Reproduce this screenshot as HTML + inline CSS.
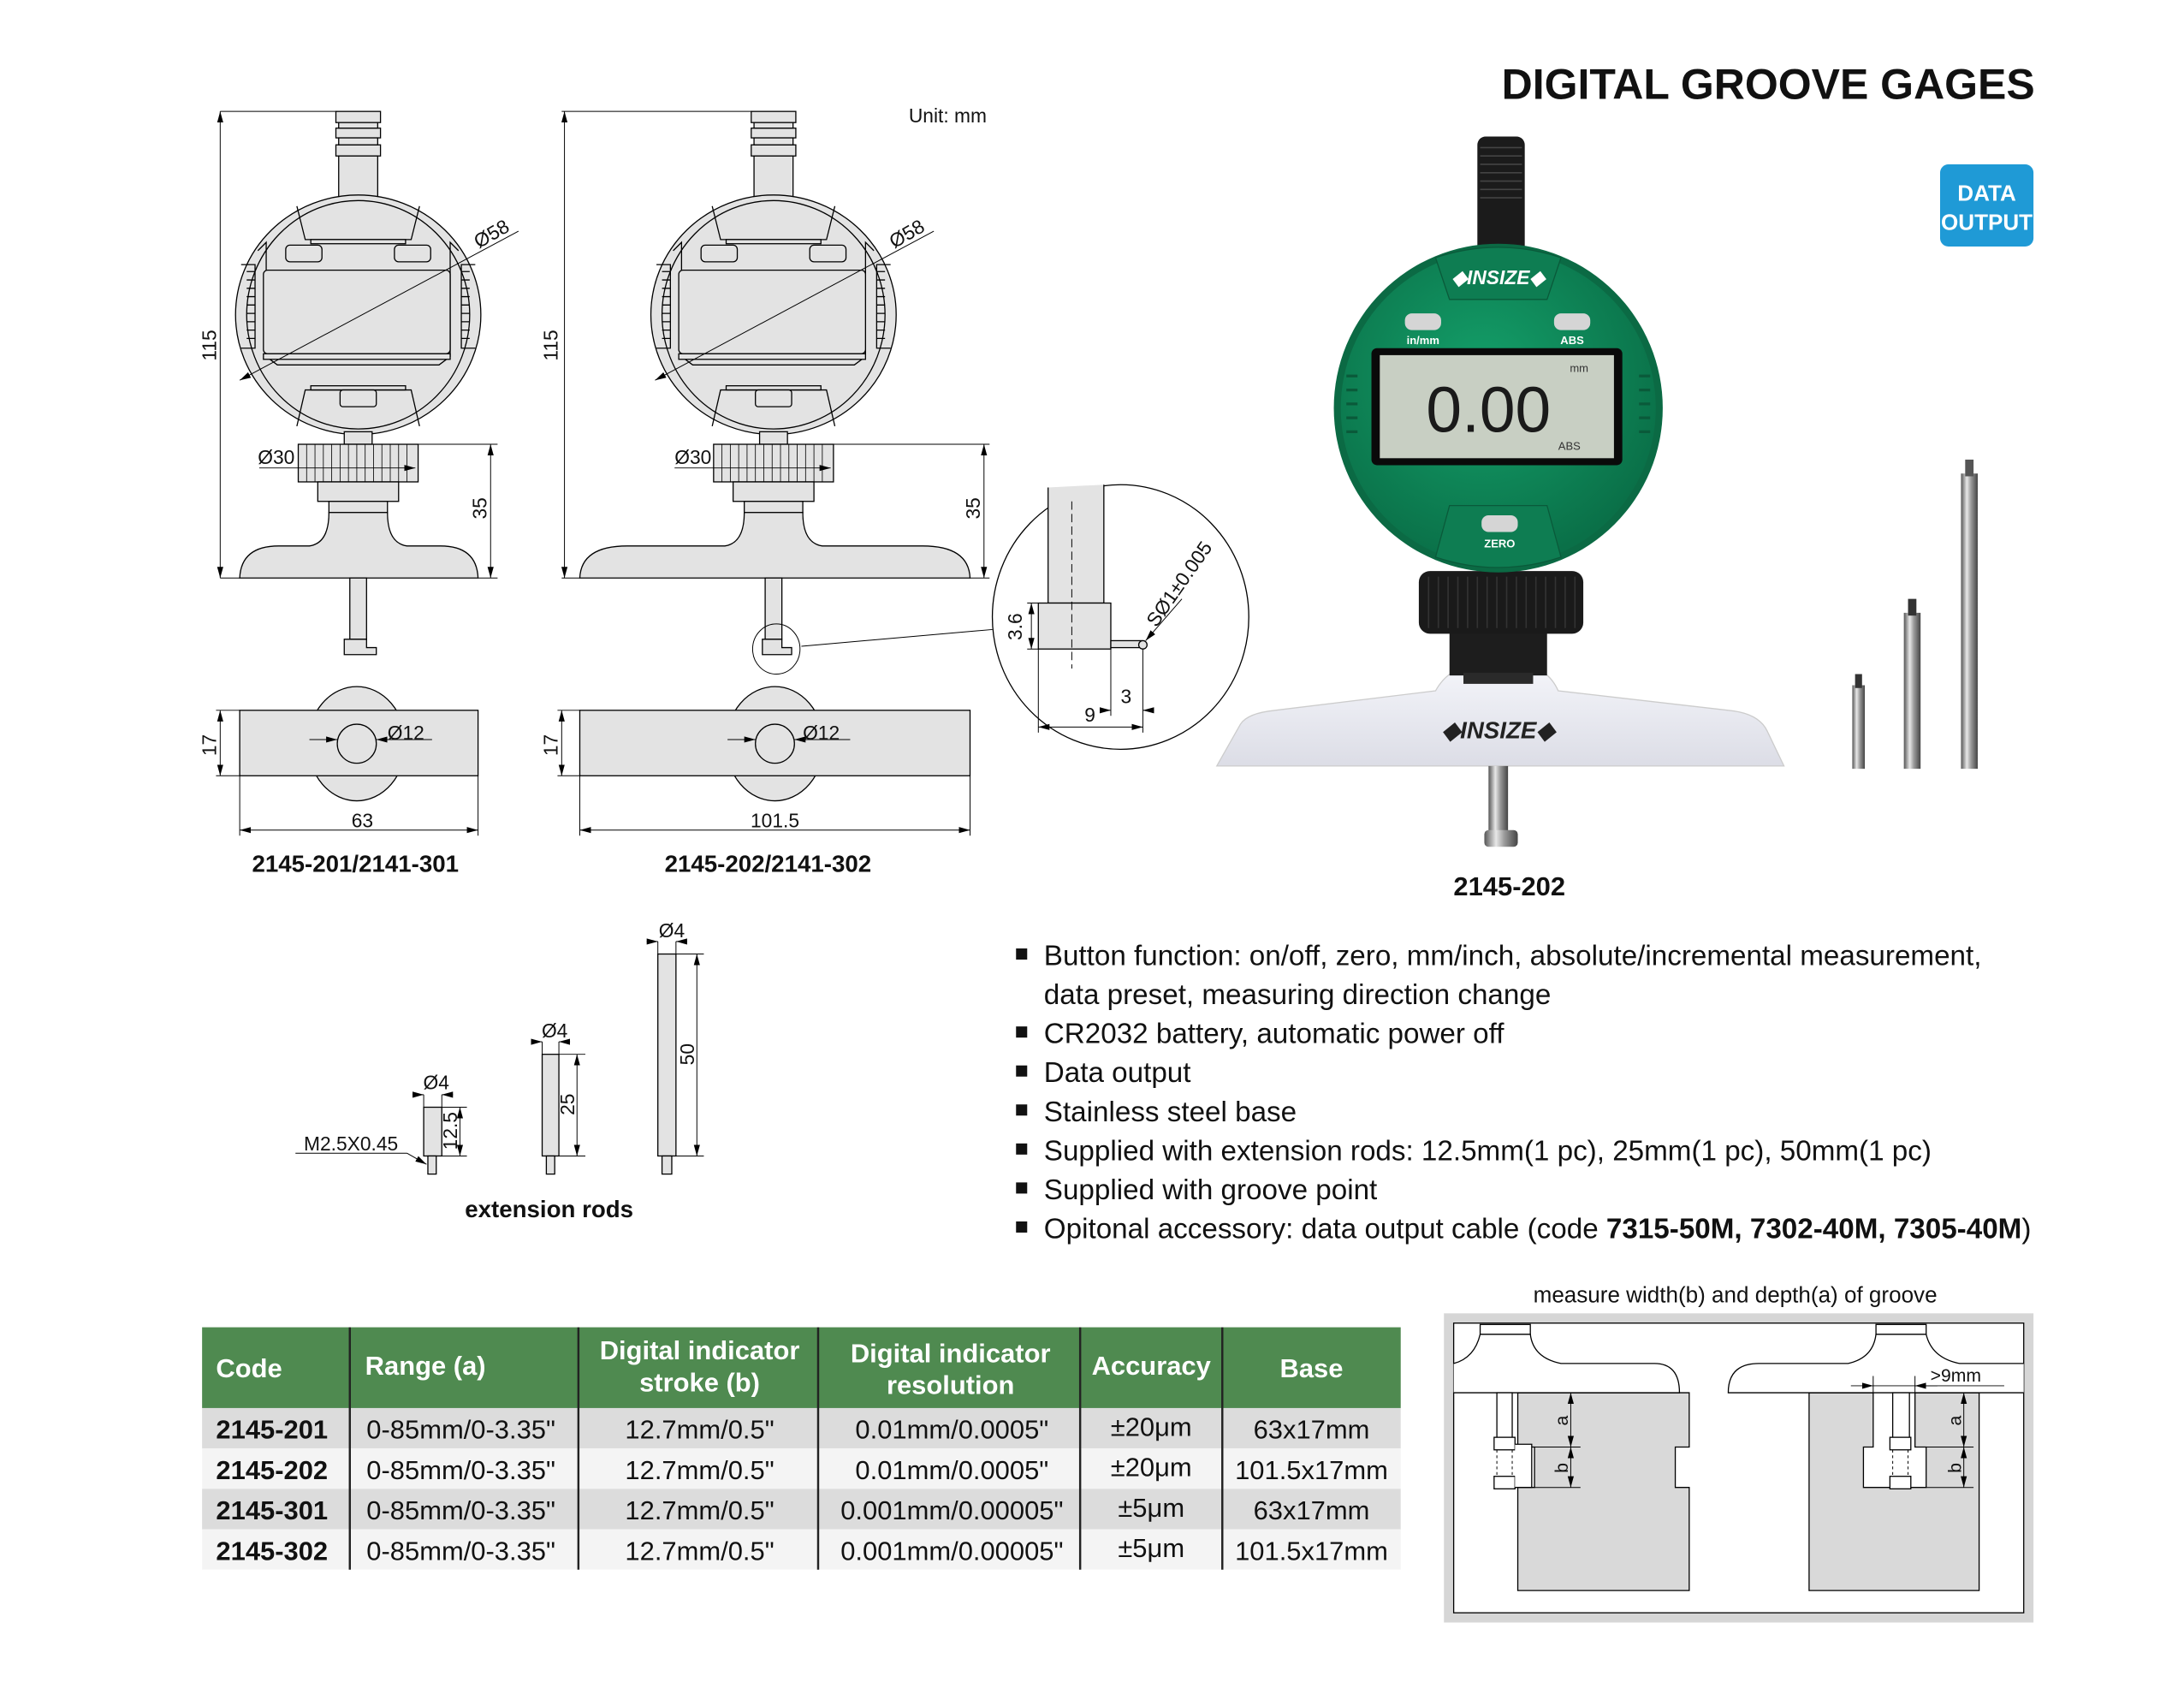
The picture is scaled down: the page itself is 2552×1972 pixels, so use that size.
<!DOCTYPE html>
<html><head><meta charset="utf-8">
<style>
html,body{margin:0;padding:0;background:#fff;}
svg{display:block;}
text{font-family:"Liberation Sans",Arial,sans-serif;}
</style></head>
<body>
<svg width="2552" height="1972" viewBox="0 0 1567 1212" preserveAspectRatio="none" xmlns="http://www.w3.org/2000/svg">
<defs>
<marker id="ar" markerWidth="8" markerHeight="6" refX="8" refY="3" orient="auto-start-reverse" markerUnits="userSpaceOnUse">
<path d="M0,0.8 L8,3 L0,5.2Z" fill="#000"/></marker>
<linearGradient id="rodg" x1="0" x2="1" y1="0" y2="0">
<stop offset="0" stop-color="#555"/><stop offset="0.35" stop-color="#e8e8e8"/><stop offset="0.6" stop-color="#9a9a9a"/><stop offset="1" stop-color="#444"/></linearGradient>
<linearGradient id="baseg" x1="0" x2="0" y1="0" y2="1">
<stop offset="0" stop-color="#f4f5fa"/><stop offset="1" stop-color="#dcdde6"/></linearGradient>
<radialGradient id="greeng" cx="0.45" cy="0.4" r="0.6">
<stop offset="0" stop-color="#14a06a"/><stop offset="1" stop-color="#0a7048"/></radialGradient>
<g id="head" stroke="#000" stroke-width="0.8" fill="#e3e3e3">
<rect x="-16" y="80" width="32" height="8"/>
<rect x="-16" y="92" width="32" height="7"/>
<rect x="-16" y="104" width="32" height="8"/>
<rect x="-14" y="88" width="28" height="4"/>
<rect x="-14" y="99" width="28" height="5"/>
<rect x="-14" y="112" width="28" height="30"/>
<ellipse cx="0" cy="226" rx="88" ry="86"/>
<ellipse cx="0" cy="226" rx="80" ry="82" fill="none"/>
<path d="M-72,180 L-66,174 L-66,256 L-58,262 L58,262 L66,256 L66,174 L72,180" fill="none"/>
<path d="M-84,190 h10 v60 h-10 M84,190 h-10 v60 h10" fill="none"/>
<path d="M-80,195 h6 M-80,201 h6 M-80,207 h6 M-80,213 h6 M-80,219 h6 M-80,225 h6 M-80,231 h6 M-80,237 h6 M-80,243 h6 M80,195 h-6 M80,201 h-6 M80,207 h-6 M80,213 h-6 M80,219 h-6 M80,225 h-6 M80,231 h-6 M80,237 h-6 M80,243 h-6" fill="none"/>
<path d="M-44,148 L-38,172 L38,172 L44,148" fill="none"/>
<rect x="-34" y="172" width="68" height="3" fill="none"/>
<rect x="-68" y="194" width="134" height="60" rx="3"/>
<rect x="-68" y="254" width="134" height="4"/>
<rect x="-52" y="176" width="26" height="12" rx="3"/>
<rect x="26" y="176" width="26" height="12" rx="3"/>
<path d="M-44,306 L-38,280 L38,280 L44,306" fill="none"/>
<rect x="-34" y="277" width="68" height="3" fill="none"/>
<rect x="-13" y="280" width="26" height="12" rx="2"/>
<rect x="-10" y="310" width="20" height="9"/>
<rect x="-43" y="319" width="86" height="27"/>
<path d="M-37,319v27 M-31,319v27 M-25,319v27 M-19,319v27 M-13,319v27 M-7,319v27 M-1,319v27 M5,319v27 M11,319v27 M17,319v27 M23,319v27 M29,319v27 M35,319v27" fill="none" stroke-width="0.5"/>
<rect x="-29" y="346" width="58" height="14"/>
<rect x="-21" y="360" width="42" height="8"/>
</g>
</defs>

<text x="1460" y="71" font-size="30.7" font-weight="bold" text-anchor="end" fill="#111">DIGITAL GROOVE GAGES</text>
<text x="652" y="88" font-size="14" fill="#111">Unit: mm</text>

<use href="#head" x="257" y="0"/>
<g stroke="#000" stroke-width="0.8" fill="#e3e3e3">
<path d="M172,415 Q173,392 200,392 L222,392 Q236,390 236,368 L278,368 Q278,390 292,392 L316,392 Q342,392 343,415 Z"/>
<rect x="251" y="415" width="12" height="44"/>
<path d="M247,459 h16 v6 h7 v5 h-23 Z"/>
<ellipse cx="256" cy="534" rx="35" ry="41"/>
<rect x="172" y="510" width="171" height="47"/>
<ellipse cx="256" cy="534" rx="14" ry="14"/>
</g>
<g stroke="#000" stroke-width="0.6" fill="none">
<path d="M158,80 H242 M158,415 H172 M298,319 H357 M343,415 H357"/>
<line x1="158" y1="80" x2="158" y2="415" marker-start="url(#ar)" marker-end="url(#ar)"/>
<line x1="352" y1="319" x2="352" y2="415" marker-start="url(#ar)" marker-end="url(#ar)"/>
<line x1="172" y1="273" x2="372" y2="166" marker-start="url(#ar)"/>
<line x1="186" y1="336" x2="298" y2="336" marker-end="url(#ar)"/>
<path d="M155,510 H172 M155,557 H172"/>
<line x1="158" y1="510" x2="158" y2="557" marker-start="url(#ar)" marker-end="url(#ar)"/>
<path d="M172,557 V600 M343,557 V600"/>
<line x1="172" y1="596" x2="343" y2="596" marker-start="url(#ar)" marker-end="url(#ar)"/>
<line x1="222" y1="531" x2="242" y2="531" marker-end="url(#ar)"/>
<line x1="300" y1="531" x2="270" y2="531" marker-end="url(#ar)"/>
<line x1="270" y1="531" x2="310" y2="531"/>
</g>
<g font-size="14" fill="#111">
<text transform="translate(155,248) rotate(-90)" text-anchor="middle">115</text>
<text transform="translate(349,365) rotate(-90)" text-anchor="middle">35</text>
<text transform="translate(355,172) rotate(-30)" text-anchor="middle">Ø58</text>
<text x="185" y="333">Ø30</text>
<text transform="translate(155,535) rotate(-90)" text-anchor="middle">17</text>
<text x="260" y="594" text-anchor="middle">63</text>
<text x="278" y="531">Ø12</text>
</g>
<text x="255" y="626" font-size="17" font-weight="bold" text-anchor="middle" fill="#111">2145-201/2141-301</text>

<use href="#head" x="555" y="0"/>
<g stroke="#000" stroke-width="0.8" fill="#e3e3e3">
<path d="M416,415 Q417,392 450,392 L520,392 Q534,390 534,368 L576,368 Q576,390 590,392 L662,392 Q695,392 696,415 Z"/>
<rect x="549" y="415" width="12" height="44"/>
<path d="M547,459 h14 v6 h7 v5 h-21 Z"/>
<ellipse cx="556" cy="534" rx="35" ry="41"/>
<rect x="416" y="510" width="280" height="47"/>
<ellipse cx="556" cy="534" rx="14" ry="14"/>
</g>
<g stroke="#000" stroke-width="0.6" fill="none">
<path d="M403,80 H540 M403,415 H416 M596,319 H710 M696,415 H710"/>
<line x1="405" y1="80" x2="405" y2="415" marker-start="url(#ar)" marker-end="url(#ar)"/>
<line x1="706" y1="319" x2="706" y2="415" marker-start="url(#ar)" marker-end="url(#ar)"/>
<line x1="470" y1="273" x2="670" y2="166" marker-start="url(#ar)"/>
<line x1="484" y1="336" x2="596" y2="336" marker-end="url(#ar)"/>
<path d="M400,510 H416 M400,557 H416"/>
<line x1="403" y1="510" x2="403" y2="557" marker-start="url(#ar)" marker-end="url(#ar)"/>
<path d="M416,557 V600 M696,557 V600"/>
<line x1="416" y1="596" x2="696" y2="596" marker-start="url(#ar)" marker-end="url(#ar)"/>
<line x1="522" y1="531" x2="542" y2="531" marker-end="url(#ar)"/>
<line x1="600" y1="531" x2="570" y2="531" marker-end="url(#ar)"/>
<line x1="570" y1="531" x2="610" y2="531"/>
<ellipse cx="557" cy="466" rx="17" ry="18"/>
<line x1="575" y1="464" x2="712" y2="452"/>
</g>
<g font-size="14" fill="#111">
<text transform="translate(400,248) rotate(-90)" text-anchor="middle">115</text>
<text transform="translate(703,365) rotate(-90)" text-anchor="middle">35</text>
<text transform="translate(653,172) rotate(-30)" text-anchor="middle">Ø58</text>
<text x="484" y="333">Ø30</text>
<text transform="translate(400,535) rotate(-90)" text-anchor="middle">17</text>
<text x="556" y="594" text-anchor="middle">101.5</text>
<text x="576" y="531">Ø12</text>
</g>
<text x="551" y="626" font-size="17" font-weight="bold" text-anchor="middle" fill="#111">2145-202/2141-302</text>

<ellipse cx="804" cy="443" rx="92" ry="95" fill="#fff" stroke="#000" stroke-width="0.8"/>
<g stroke="#000" stroke-width="0.8" fill="#e3e3e3">
<path d="M752,350 V433 H792 V348"/>
<rect x="745" y="433" width="52" height="33"/>
<rect x="797" y="460" width="22" height="5"/>
<circle cx="820" cy="463" r="3"/>
</g>
<g stroke="#000" stroke-width="0.6" fill="none">
<line x1="769" y1="360" x2="769" y2="480" stroke-dasharray="6,3"/>
<line x1="740" y1="433" x2="740" y2="466" marker-start="url(#ar)" marker-end="url(#ar)"/>
<path d="M737,433 H745 M737,466 H745 M745,466 V526 M820,466 V526 M797,466 V514"/>
<line x1="745" y1="522" x2="820" y2="522" marker-start="url(#ar)" marker-end="url(#ar)"/>
<line x1="790" y1="510" x2="797" y2="510" marker-end="url(#ar)"/>
<line x1="828" y1="510" x2="820" y2="510" marker-end="url(#ar)"/>
<line x1="848" y1="430" x2="822" y2="460" marker-end="url(#ar)"/>
</g>
<g font-size="14" fill="#111">
<text transform="translate(733,450) rotate(-90)" text-anchor="middle">3.6</text>
<text x="782" y="518" text-anchor="middle">9</text>
<text x="808" y="505" text-anchor="middle">3</text>
<text transform="translate(850,422) rotate(-55)" text-anchor="middle">SØ1±0.005</text>
</g>

<g stroke="#000" stroke-width="0.8" fill="#e3e3e3">
<rect x="304" y="795" width="13" height="35"/>
<rect x="307" y="830" width="6" height="13"/>
<rect x="389" y="757" width="12" height="73"/>
<rect x="392" y="830" width="6" height="13"/>
<rect x="472" y="685" width="13" height="145"/>
<rect x="475" y="830" width="7" height="13"/>
</g>
<g stroke="#000" stroke-width="0.6" fill="none">
<path d="M304,786 V795 M317,786 V795 M317,795 H335 M317,830 H335 M389,748 V757 M401,748 V757 M401,757 H420 M401,830 H420 M472,676 V685 M485,676 V685 M485,685 H505 M485,830 H505"/>
<line x1="296" y1="786" x2="304" y2="786" marker-end="url(#ar)"/>
<line x1="325" y1="786" x2="317" y2="786" marker-end="url(#ar)"/>
<line x1="381" y1="748" x2="389" y2="748" marker-end="url(#ar)"/>
<line x1="409" y1="748" x2="401" y2="748" marker-end="url(#ar)"/>
<line x1="464" y1="676" x2="472" y2="676" marker-end="url(#ar)"/>
<line x1="493" y1="676" x2="485" y2="676" marker-end="url(#ar)"/>
<line x1="330" y1="795" x2="330" y2="830" marker-start="url(#ar)" marker-end="url(#ar)"/>
<line x1="414" y1="757" x2="414" y2="830" marker-start="url(#ar)" marker-end="url(#ar)"/>
<line x1="500" y1="685" x2="500" y2="830" marker-start="url(#ar)" marker-end="url(#ar)"/>
<path d="M212,828 H292"/>
<line x1="292" y1="828" x2="306" y2="836" marker-end="url(#ar)"/>
</g>
<g font-size="14" fill="#111">
<text x="313" y="782" text-anchor="middle">Ø4</text>
<text x="398" y="745" text-anchor="middle">Ø4</text>
<text x="482" y="673" text-anchor="middle">Ø4</text>
<text transform="translate(328,812) rotate(-90)" text-anchor="middle">12.5</text>
<text transform="translate(412,793) rotate(-90)" text-anchor="middle">25</text>
<text transform="translate(498,757) rotate(-90)" text-anchor="middle">50</text>
<text x="218" y="826">M2.5X0.45</text>
</g>
<text x="394" y="874" font-size="17" font-weight="bold" text-anchor="middle" fill="#111">extension rods</text>

<rect x="1060" y="98" width="34" height="95" rx="6" fill="#1b1b1b"/>
<g stroke="#444" stroke-width="1"><path d="M1062,106 H1092 M1062,112 H1092 M1062,118 H1092 M1062,124 H1092 M1062,130 H1092 M1062,136 H1092 M1062,142 H1092"/></g>
<path d="M873,550 L890,520 Q895,512 915,510 L1030,496 Q1040,478 1060,478 L1090,478 Q1110,478 1118,496 L1240,510 Q1262,512 1268,525 L1280,550 Z" fill="url(#baseg)" stroke="#ccc" stroke-width="0.8"/>
<text x="1075" y="530" font-size="17" font-weight="bold" font-style="italic" text-anchor="middle" fill="#222">◆INSIZE◆</text>
<rect x="1068" y="550" width="14" height="48" fill="url(#rodg)"/>
<rect x="1065" y="596" width="24" height="12" rx="3" fill="url(#rodg)"/>
<rect x="1040" y="445" width="70" height="40" fill="#1d1d1d"/>
<rect x="1050" y="483" width="50" height="8" fill="#2a2a2a"/>
<rect x="1018" y="410" width="118" height="45" rx="8" fill="#1a1a1a"/>
<g stroke="#333" stroke-width="1"><path d="M1025,414 v37 M1032,414 v37 M1039,414 v37 M1046,414 v37 M1053,414 v37 M1060,414 v37 M1067,414 v37 M1074,414 v37 M1081,414 v37 M1088,414 v37 M1095,414 v37 M1102,414 v37 M1109,414 v37 M1116,414 v37 M1123,414 v37 M1130,414 v37"/></g>
<circle cx="1075" cy="293" r="118" fill="#0b6a44"/>
<circle cx="1075" cy="293" r="113" fill="url(#greeng)"/>
<path d="M1030,185 L1040,215 L1110,215 L1120,185 Q1075,170 1030,185Z" fill="#0e7d52" stroke="#0a5a3a" stroke-width="0.8"/>
<path d="M1030,400 L1040,363 L1110,363 L1120,400 Q1075,415 1030,400Z" fill="#0e7d52" stroke="#0a5a3a" stroke-width="0.8"/>
<text x="1075" y="204" font-size="14" font-weight="bold" font-style="italic" text-anchor="middle" fill="#fff">◆INSIZE◆</text>
<rect x="1008" y="225" width="26" height="12" rx="5" fill="#d5d5d5"/>
<rect x="1115" y="225" width="26" height="12" rx="5" fill="#d5d5d5"/>
<text x="1021" y="247" font-size="8" font-weight="bold" text-anchor="middle" fill="#fff">in/mm</text>
<text x="1128" y="247" font-size="8" font-weight="bold" text-anchor="middle" fill="#fff">ABS</text>
<rect x="984" y="250" width="180" height="84" rx="4" fill="#0a0a0a"/>
<rect x="990" y="255" width="168" height="74" fill="#c8cfc3"/>
<text x="1068" y="310" font-size="46" text-anchor="middle" fill="#1a1a1a" font-family="Liberation Sans Narrow,Liberation Sans,sans-serif">0.00</text>
<text x="1133" y="267" font-size="8" text-anchor="middle" fill="#333">mm</text>
<text x="1126" y="323" font-size="8" text-anchor="middle" fill="#333">ABS</text>
<rect x="1063" y="370" width="26" height="12" rx="5" fill="#d5d5d5"/>
<text x="1076" y="393" font-size="8" font-weight="bold" text-anchor="middle" fill="#fff">ZERO</text>
<g stroke="#0a5a3a" stroke-width="2"><path d="M966,270 h8 M966,280 h8 M966,290 h8 M966,300 h8 M966,310 h8 M1176,270 h8 M1176,280 h8 M1176,290 h8 M1176,300 h8 M1176,310 h8"/></g>
<text x="1083" y="643" font-size="19" font-weight="bold" text-anchor="middle" fill="#111">2145-202</text>

<rect x="1329" y="492" width="9" height="60" fill="url(#rodg)"/>
<rect x="1331" y="484" width="5" height="10" fill="#333"/>
<rect x="1366" y="440" width="12" height="112" fill="url(#rodg)"/>
<rect x="1369" y="430" width="6" height="12" fill="#333"/>
<rect x="1407" y="340" width="12" height="212" fill="url(#rodg)"/>
<rect x="1410" y="330" width="6" height="12" fill="#555"/>

<rect x="1392" y="118" width="67" height="59" rx="6" fill="#1f9ad6"/>
<text x="1425.5" y="144" font-size="16" font-weight="bold" text-anchor="middle" fill="#fff">DATA</text>
<text x="1425.5" y="165" font-size="16" font-weight="bold" text-anchor="middle" fill="#fff">OUTPUT</text>

<g font-size="20.4" fill="#111">
<rect x="729" y="681" width="8" height="8"/><text x="749" y="693">Button function: on/off, zero, mm/inch, absolute/incremental measurement,</text>
<text x="749" y="721">data preset, measuring direction change</text>
<rect x="729" y="737" width="8" height="8"/><text x="749" y="749">CR2032 battery, automatic power off</text>
<rect x="729" y="765" width="8" height="8"/><text x="749" y="777">Data output</text>
<rect x="729" y="793" width="8" height="8"/><text x="749" y="805">Stainless steel base</text>
<rect x="729" y="821" width="8" height="8"/><text x="749" y="833">Supplied with extension rods: 12.5mm(1 pc), 25mm(1 pc), 50mm(1 pc)</text>
<rect x="729" y="849" width="8" height="8"/><text x="749" y="861">Supplied with groove point</text>
<rect x="729" y="877" width="8" height="8"/><text x="749" y="889">Opitonal accessory: data output cable (code <tspan font-weight="bold">7315-50M, 7302-40M, 7305-40M</tspan>)</text>
</g>

<rect x="145" y="953" width="860" height="58" fill="#4f8a50"/>
<rect x="145" y="1011" width="860" height="29" fill="#dcdcdc"/>
<rect x="145" y="1040" width="860" height="29" fill="#f4f4f4"/>
<rect x="145" y="1069" width="860" height="29" fill="#dcdcdc"/>
<rect x="145" y="1098" width="860" height="29" fill="#f4f4f4"/>
<g stroke="#222" stroke-width="1.5"><path d="M251,953 V1127 M415,953 V1127 M587,953 V1127 M775,953 V1127 M877,953 V1127"/></g>
<g font-size="19" font-weight="bold" fill="#fff">
<text x="155" y="989">Code</text>
<text x="262" y="987">Range (a)</text>
<text x="502" y="976" text-anchor="middle">Digital indicator</text>
<text x="502" y="999" text-anchor="middle">stroke (b)</text>
<text x="682" y="978" text-anchor="middle">Digital indicator</text>
<text x="682" y="1001" text-anchor="middle">resolution</text>
<text x="826" y="987" text-anchor="middle">Accuracy</text>
<text x="941" y="989" text-anchor="middle">Base</text>
</g>
<g font-size="19" fill="#111">
<text x="155" y="1033" font-weight="bold">2145-201</text>
<text x="155" y="1062" font-weight="bold">2145-202</text>
<text x="155" y="1091" font-weight="bold">2145-301</text>
<text x="155" y="1120" font-weight="bold">2145-302</text>
<text x="263" y="1033">0-85mm/0-3.35"</text>
<text x="263" y="1062">0-85mm/0-3.35"</text>
<text x="263" y="1091">0-85mm/0-3.35"</text>
<text x="263" y="1120">0-85mm/0-3.35"</text>
<text x="502" y="1033" text-anchor="middle">12.7mm/0.5"</text>
<text x="502" y="1062" text-anchor="middle">12.7mm/0.5"</text>
<text x="502" y="1091" text-anchor="middle">12.7mm/0.5"</text>
<text x="502" y="1120" text-anchor="middle">12.7mm/0.5"</text>
<text x="683" y="1033" text-anchor="middle">0.01mm/0.0005"</text>
<text x="683" y="1062" text-anchor="middle">0.01mm/0.0005"</text>
<text x="683" y="1091" text-anchor="middle">0.001mm/0.00005"</text>
<text x="683" y="1120" text-anchor="middle">0.001mm/0.00005"</text>
<text x="826" y="1031" text-anchor="middle">±20μm</text>
<text x="826" y="1060" text-anchor="middle">±20μm</text>
<text x="826" y="1089" text-anchor="middle">±5μm</text>
<text x="826" y="1118" text-anchor="middle">±5μm</text>
<text x="941" y="1033" text-anchor="middle">63x17mm</text>
<text x="941" y="1062" text-anchor="middle">101.5x17mm</text>
<text x="941" y="1091" text-anchor="middle">63x17mm</text>
<text x="941" y="1120" text-anchor="middle">101.5x17mm</text>
</g>

<text x="1245" y="935" font-size="16" text-anchor="middle" fill="#111">measure width(b) and depth(a) of groove</text>
<rect x="1036" y="943" width="423" height="222" fill="#d6d6d6"/>
<rect x="1043" y="950" width="409" height="208" fill="#fff" stroke="#000" stroke-width="0.8"/>
<g stroke="#000" stroke-width="0.8">
<path d="M1089,1000 H1212 V1039 H1202 V1068 H1212 V1142 H1089 V1068 H1101 V1039 H1089 Z" fill="#d9d9d9"/>
<path d="M1298,1000 H1344 V1039 H1337 V1068 H1382 V1039 H1374 V1000 H1420 V1142 H1298 Z" fill="#d9d9d9"/>
<path d="M1043,1000 H1205 Q1205,979 1187,979 L1120,979 Q1100,975 1098,958 L1062,958 Q1058,975 1043,979" fill="#fff"/>
<rect x="1062" y="951" width="36" height="7" fill="#fff"/>
<path d="M1452,1000 H1240 Q1240,979 1262,979 L1326,979 Q1344,975 1346,958 L1382,958 Q1386,975 1406,979 L1452,979" fill="#fff"/>
<rect x="1346" y="951" width="36" height="7" fill="#fff"/>
<rect x="1074" y="1000" width="11" height="32" fill="#fff"/>
<rect x="1072" y="1032" width="15" height="9" fill="#fff"/>
<rect x="1072" y="1060" width="15" height="9" fill="#fff"/>
<path d="M1087,1037 h12 v31 h-12" fill="#fff"/>
<rect x="1358" y="1000" width="12" height="32" fill="#fff"/>
<rect x="1356" y="1032" width="15" height="9" fill="#fff"/>
<rect x="1356" y="1060" width="15" height="9" fill="#fff"/>
</g>
<g stroke="#000" stroke-width="0.6" fill="none">
<path d="M1074,1041 V1060 M1085,1041 V1060 M1358,1041 V1060 M1369,1041 V1060" stroke-dasharray="2,2"/>
<path d="M1101,1039 H1134 M1101,1068 H1134 M1382,1039 H1416 M1382,1068 H1416 M1344,988 V1000 M1374,988 V1000"/>
<line x1="1127" y1="1000" x2="1127" y2="1039" marker-start="url(#ar)" marker-end="url(#ar)"/>
<line x1="1127" y1="1039" x2="1127" y2="1068" marker-start="url(#ar)" marker-end="url(#ar)"/>
<line x1="1409" y1="1000" x2="1409" y2="1039" marker-start="url(#ar)" marker-end="url(#ar)"/>
<line x1="1409" y1="1039" x2="1409" y2="1068" marker-start="url(#ar)" marker-end="url(#ar)"/>
<line x1="1328" y1="995" x2="1344" y2="995" marker-end="url(#ar)"/>
<line x1="1390" y1="995" x2="1374" y2="995" marker-end="url(#ar)"/>
<line x1="1344" y1="995" x2="1438" y2="995"/>
</g>
<g font-size="13" fill="#111">
<text transform="translate(1125,1020) rotate(-90)" text-anchor="middle">a</text>
<text transform="translate(1125,1054) rotate(-90)" text-anchor="middle">b</text>
<text transform="translate(1407,1020) rotate(-90)" text-anchor="middle">a</text>
<text transform="translate(1407,1054) rotate(-90)" text-anchor="middle">b</text>
<text x="1385" y="992">&gt;9mm</text>
</g>
</svg>
</body></html>
